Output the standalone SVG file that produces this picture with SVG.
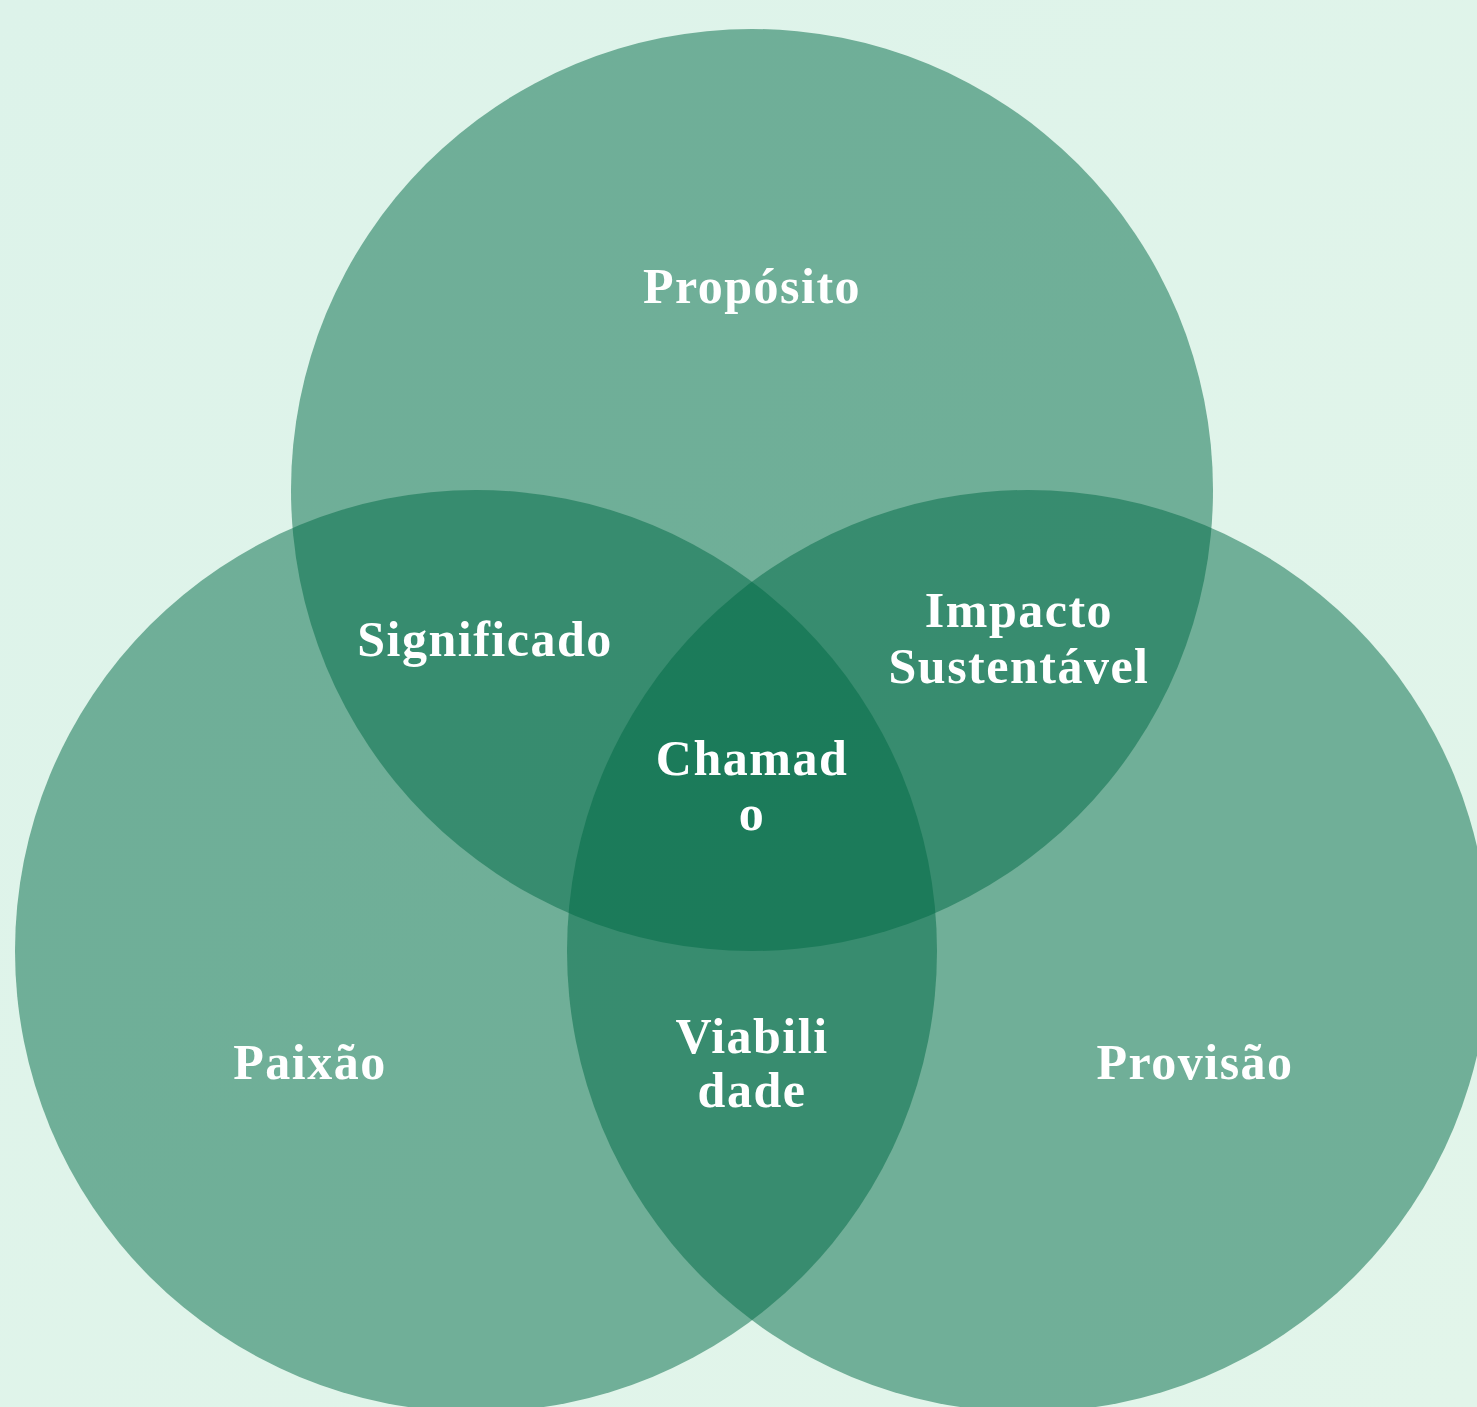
<svg xmlns="http://www.w3.org/2000/svg" width="1477" height="1407" viewBox="0 0 1477 1407">
  <defs>
    <linearGradient id="bg" x1="0" y1="0" x2="1" y2="1">
      <stop offset="0" stop-color="#DDF3EA"/>
      <stop offset="1" stop-color="#E2F5EA"/>
    </linearGradient>
    <style>
      .c { fill: #006946; fill-opacity: 0.5; }
      .t { font-family: "Liberation Serif", "Times New Roman", serif; font-weight: bold; font-size: 50px; letter-spacing: 1.5px; fill: #FFFFFF; text-anchor: middle; }
    </style>
  </defs>
  <rect width="1477" height="1407" fill="url(#bg)"/>
  <g id="circle-proposito"><circle class="c" cx="752" cy="490" r="461"/></g>
  <g id="circle-paixao"><circle class="c" cx="476" cy="951" r="461"/></g>
  <g id="circle-provisao"><circle class="c" cx="1028" cy="951" r="461"/></g>
  <g id="connectors"/>
  <g id="label-proposito"><text class="t" x="752" y="303">Propósito</text></g>
  <g id="label-significado"><text class="t" x="485" y="656">Significado</text></g>
  <g id="label-impacto"><text class="t" x="1019" y="627">Impacto</text><text class="t" x="1019" y="683">Sustentável</text></g>
  <g id="label-chamado"><text class="t" x="752" y="775">Chamad</text><text class="t" x="752" y="830">o</text></g>
  <g id="label-viabilidade"><text class="t" x="752" y="1053">Viabili</text><text class="t" x="752" y="1107">dade</text></g>
  <g id="label-paixao"><text class="t" x="310" y="1079">Paixão</text></g>
  <g id="label-provisao"><text class="t" x="1195" y="1079">Provisão</text></g>
</svg>
